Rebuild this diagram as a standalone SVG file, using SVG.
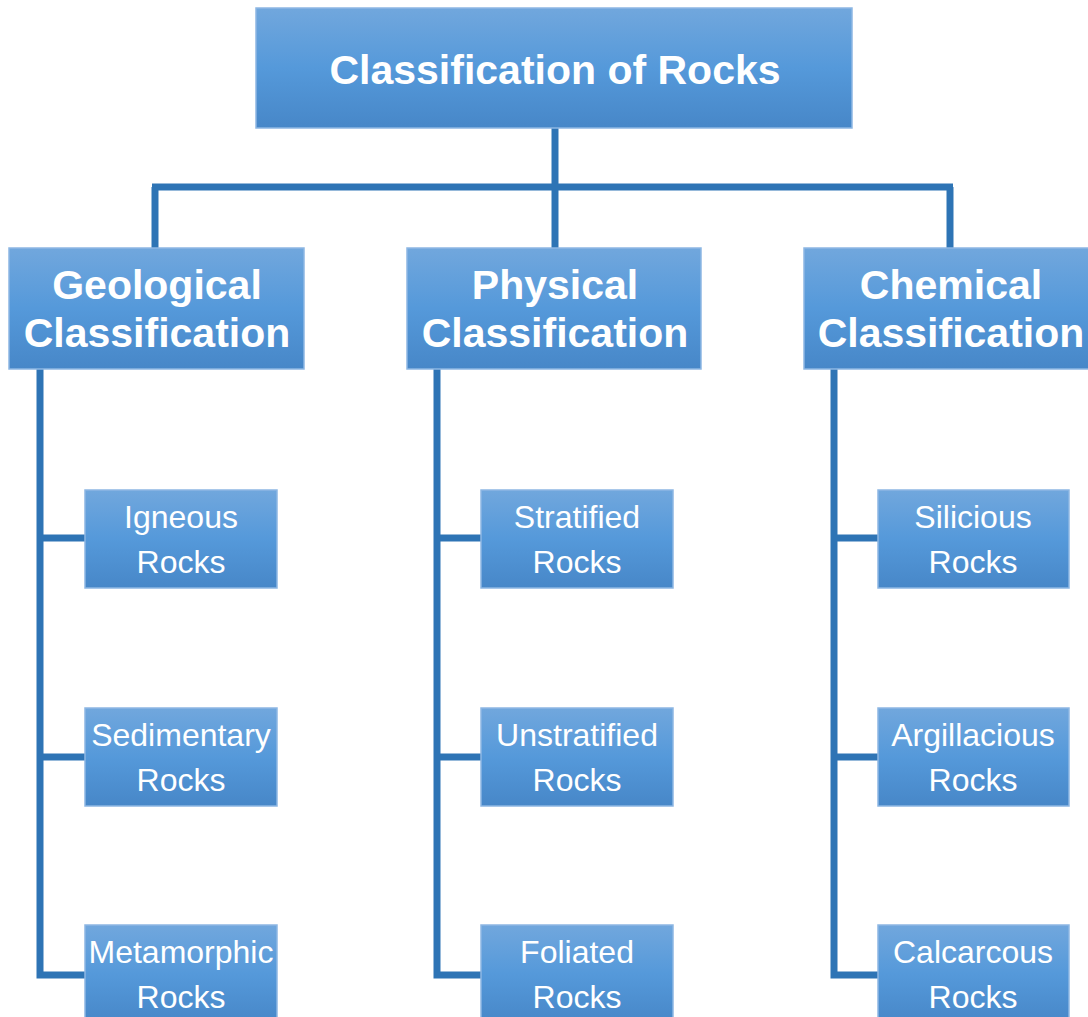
<svg xmlns="http://www.w3.org/2000/svg" width="1088" height="1017" viewBox="0 0 1088 1017">
  <defs>
    <linearGradient id="boxGrad" x1="0" y1="0" x2="0" y2="1">
      <stop offset="0" stop-color="#71A7DD"/>
      <stop offset="0.5" stop-color="#5599DA"/>
      <stop offset="1" stop-color="#4787C8"/>
    </linearGradient>
    <style>
      .box { fill: url(#boxGrad); stroke: #8DB7E3; stroke-width: 1.5; }
      .line { stroke: #2E74B5; stroke-width: 7; fill: none; stroke-linejoin: miter; stroke-linecap: butt; }
      .title { font-family: "Liberation Sans", Arial, sans-serif; font-weight: bold; font-size: 41px; fill: #ffffff; text-anchor: middle; }
      .cat { font-family: "Liberation Sans", Arial, sans-serif; font-weight: bold; font-size: 41px; fill: #ffffff; text-anchor: middle; }
      .leaf { font-family: "Liberation Sans", Arial, sans-serif; font-size: 32px; fill: #ffffff; text-anchor: middle; }
    </style>
  </defs>
  <rect width="1088" height="1017" fill="#ffffff"/>

  <g id="connectors">
    <path class="line" d="M555,128 V248"/>
    <path class="line" d="M152,187 H953"/>
    <path class="line" d="M155,187 V248"/>
    <path class="line" d="M950,187 V248"/>
    <path class="line" d="M40,369 V975 H85 M40,538 H85 M40,757 H85"/>
    <path class="line" d="M437,369 V975 H481 M437,538 H481 M437,757 H481"/>
    <path class="line" d="M834,369 V975 H878 M834,538 H878 M834,757 H878"/>
  </g>

  <g id="root">
    <rect class="box" x="256" y="8" width="596" height="120"/>
    <text class="title" x="555" y="84">Classification of Rocks</text>
  </g>

  <g id="geological">
    <rect class="box" x="9" y="248" width="295" height="121"/>
    <text class="cat" x="157" y="299">Geological</text>
    <text class="cat" x="157" y="347">Classification</text>
  </g>
  <g id="physical">
    <rect class="box" x="407" y="248" width="294" height="121"/>
    <text class="cat" x="555" y="299">Physical</text>
    <text class="cat" x="555" y="347">Classification</text>
  </g>
  <g id="chemical">
    <rect class="box" x="804" y="248" width="295" height="121"/>
    <text class="cat" x="951" y="299">Chemical</text>
    <text class="cat" x="951" y="347">Classification</text>
  </g>

  <g id="igneous">
    <rect class="box" x="85" y="490" width="192" height="98"/>
    <text class="leaf" x="181" y="528">Igneous</text>
    <text class="leaf" x="181" y="573">Rocks</text>
  </g>
  <g id="sedimentary">
    <rect class="box" x="85" y="708" width="192" height="98"/>
    <text class="leaf" x="181" y="746">Sedimentary</text>
    <text class="leaf" x="181" y="791">Rocks</text>
  </g>
  <g id="metamorphic">
    <rect class="box" x="85" y="925" width="192" height="98"/>
    <text class="leaf" x="181" y="963">Metamorphic</text>
    <text class="leaf" x="181" y="1008">Rocks</text>
  </g>

  <g id="stratified">
    <rect class="box" x="481" y="490" width="192" height="98"/>
    <text class="leaf" x="577" y="528">Stratified</text>
    <text class="leaf" x="577" y="573">Rocks</text>
  </g>
  <g id="unstratified">
    <rect class="box" x="481" y="708" width="192" height="98"/>
    <text class="leaf" x="577" y="746">Unstratified</text>
    <text class="leaf" x="577" y="791">Rocks</text>
  </g>
  <g id="foliated">
    <rect class="box" x="481" y="925" width="192" height="98"/>
    <text class="leaf" x="577" y="963">Foliated</text>
    <text class="leaf" x="577" y="1008">Rocks</text>
  </g>

  <g id="silicious">
    <rect class="box" x="878" y="490" width="191" height="98"/>
    <text class="leaf" x="973" y="528">Silicious</text>
    <text class="leaf" x="973" y="573">Rocks</text>
  </g>
  <g id="argillacious">
    <rect class="box" x="878" y="708" width="191" height="98"/>
    <text class="leaf" x="973" y="746">Argillacious</text>
    <text class="leaf" x="973" y="791">Rocks</text>
  </g>
  <g id="calcarcous">
    <rect class="box" x="878" y="925" width="191" height="98"/>
    <text class="leaf" x="973" y="963">Calcarcous</text>
    <text class="leaf" x="973" y="1008">Rocks</text>
  </g>
</svg>
